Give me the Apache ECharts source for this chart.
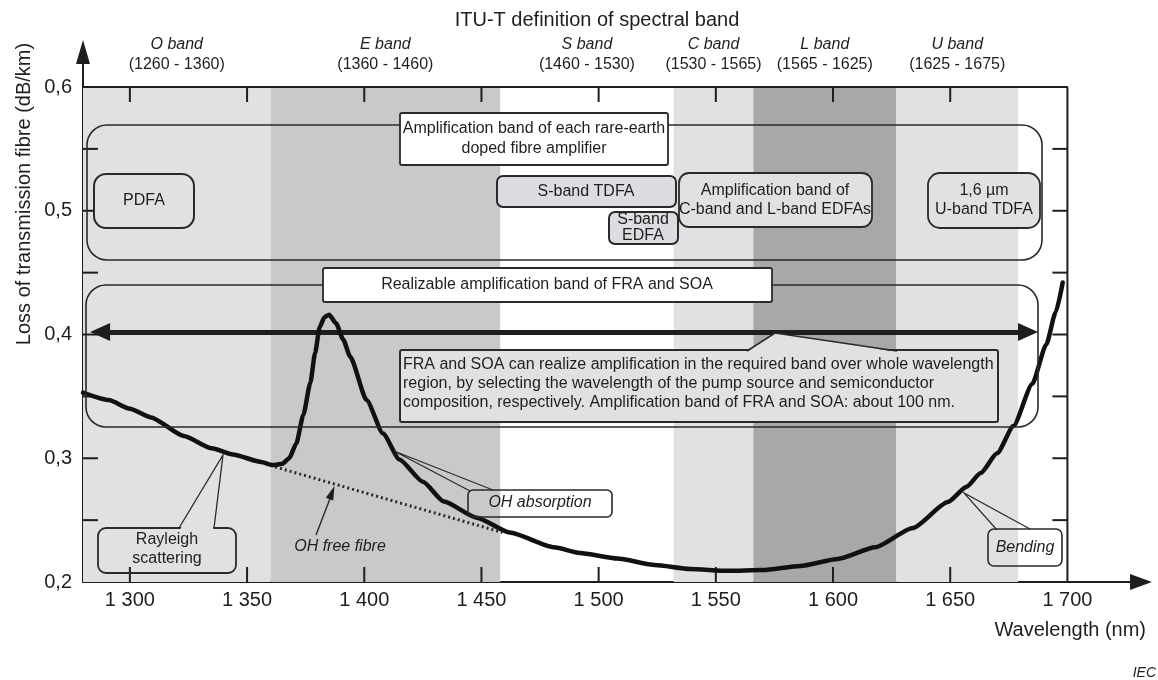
<!DOCTYPE html>
<html><head><meta charset="utf-8">
<script src="https://cdn.jsdelivr.net/npm/echarts@6/dist/echarts.min.js"></script>
<style>html,body{margin:0;padding:0;background:#fff}#c{width:1158px;height:680px}</style>
</head><body><div id="c"></div>
<script>
// ---- data ----
const lossNm = [1280,1291,1300,1309,1323,1335,1344,1356,1361,1365,1368,1371,1374,1377,1379,1381,1383,1385,1388,1391,1394,1401,1408,1415,1425,1434,1448,1462,1481,1492,1508,1524,1539,1555,1570,1586,1602,1618,1634,1649,1657,1663,1670,1677,1685,1691,1695,1698];
const lossVal = [0.353,0.347,0.340,0.333,0.318,0.308,0.303,0.297,0.2945,0.2955,0.300,0.312,0.335,0.361,0.385,0.406,0.414,0.416,0.409,0.396,0.382,0.347,0.320,0.299,0.281,0.265,0.252,0.240,0.228,0.2235,0.219,0.2137,0.2105,0.209,0.2097,0.213,0.2186,0.228,0.2436,0.2646,0.277,0.288,0.304,0.326,0.360,0.392,0.418,0.442];
const ohFreeNm = [1362, 1459];
const ohFreeVal = [0.293, 0.240];
const bandNames = ['O band','E band','S band','C band','L band','U band'];
const bandRanges = ['(1260 - 1360)','(1360 - 1460)','(1460 - 1530)','(1530 - 1565)','(1565 - 1625)','(1625 - 1675)'];
const bandStart = [1280,1360,1458,1532,1566,1627];
const bandEnd = [1360,1458,1532,1566,1627,1679];
const xTickValues = [1300,1350,1400,1450,1500,1550,1600,1650];
const yTickValues = [0.25,0.30,0.35,0.40,0.45,0.50,0.55];
const frameNm = [1280,1700,1700];
const frameVal = [0.6,0.6,0.2];
const arrowNm = [1287.3, 1683.2];
const arrowVal = 0.402;

// ---- styles ----
const FONT = '"Liberation Sans", Arial, Helvetica, sans-serif';
const INK = '#1e1e1e';
const LIGHT = '#e0e1e3';
const bandFill = [LIGHT,'#c8c9cb','rgba(0,0,0,0)',LIGHT,'#a7a8aa',LIGHT];

function T(x,y,t,o){
  const s = Object.assign({text:t, fontSize:16, fontFamily:FONT, fill:INK,
    align:'center', verticalAlign:'middle', textAlign:'center', textVerticalAlign:'middle', lineHeight:19}, o||{});
  return {type:'text', x:x, y:y, z:20, silent:true, style:s};
}
function R(x,y,w,h,r,fill,lw){
  return {type:'rect', z:10, silent:true, shape:{x:x,y:y,width:w,height:h,r:r},
    style:{fill:fill||'none', stroke:'#2a2a2a', lineWidth:lw||1.6}};
}
function PL(points,lw,z){
  return {type:'polyline', z:z||11, silent:true, shape:{points:points}, style:{stroke:'#2a2a2a', lineWidth:lw||1.3, fill:'none'}};
}
function PG(points,fill,z){
  return {type:'polygon', z:z||11, silent:true, shape:{points:points}, style:{fill:fill, stroke:'none'}};
}

const graphics = [
  T(597,20,'ITU-T definition of spectral band',{fontSize:20}),
  {type:'text', x:24, y:194, rotation:Math.PI/2, z:20, silent:true,
    style:{text:'Loss of transmission fibre (dB/km)', fontSize:20, fontFamily:FONT, fill:INK,
      align:'center', verticalAlign:'middle', textAlign:'center', textVerticalAlign:'middle'}},
  T(1146,630,'Wavelength (nm)',{fontSize:20, align:'right', textAlign:'right'}),
  T(1156,673,'IEC',{fontSize:14, fontStyle:'italic', align:'right', textAlign:'right'}),

  R(87,125,955,135,20,'none',1.6),
  R(400,113,268,52,2,'#ffffff',1.8),
  T(534,139,'Amplification band of each rare-earth\ndoped fibre amplifier',{lineHeight:20}),
  R(94,174,100,54,12,LIGHT,2),
  T(144,201,'PDFA'),
  R(497,176,179,31,6,'#dcdde0',2),
  T(586,192,'S-band TDFA'),
  R(609,212,69,32,6,'#dcdde0',2),
  T(643,228,'S-band\nEDFA',{lineHeight:16}),
  R(679,173,193,54,10,LIGHT,1.8),
  T(775,200,'Amplification band of\nC-band and L-band EDFAs',{lineHeight:19}),
  R(928,173,112,55,12,LIGHT,1.8),
  T(984,200,'1,6 \u00b5m\nU-band TDFA',{lineHeight:19}),

  R(86,285,952,142,20,'none',1.6),
  R(323,268,449,34,2,'#ffffff',1.8),
  T(547,285,'Realizable amplification band of FRA and SOA'),
  R(400,350,598,72,2,LIGHT,2),
  PG([[747,352],[775,333],[897,352]],LIGHT,12),
  PL([[747,351],[775,333],[897,351]],1.6,12),
  T(403,365,'FRA and SOA can realize amplification in the required band over whole wavelength',{align:'left',textAlign:'left'}),
  T(403,384,'region, by selecting the wavelength of the pump source and semiconductor',{align:'left',textAlign:'left'}),
  T(403,403,'composition, respectively. Amplification band of FRA and SOA: about 100 nm.',{align:'left',textAlign:'left'}),

  R(98,528,138,45,8,'none',1.8),
  PG([[180,529.5],[223,455],[213,529.5]],LIGHT,12),
  PL([[179,528],[223,455],[214,528]],1.3,12),
  T(167,549,'Rayleigh\nscattering',{lineHeight:19}),

  T(340,547,'OH free fibre',{fontStyle:'italic'}),
  PL([[316,535],[331,496]],1.4,12),
  PG([[334.5,486],[333.2,500.5],[325.8,497.7]],INK,12),

  R(468,490,144,27,5,'none',1.6),
  PL([[470,491],[394,451],[493,490]],1.2,12),
  T(540,503,'OH absorption',{fontStyle:'italic'}),

  R(988,529,74,37,6,'none',1.6),
  PL([[997,530],[964,493],[1030,529]],1.2,12),
  T(1025,548,'Bending',{fontStyle:'italic'})
];

const chart = echarts.init(document.getElementById('c'), null, {renderer:'canvas'});
chart.setOption({
  animation:false,
  backgroundColor:'#ffffff',
  grid:{left:83, right:17, top:52, bottom:98, containLabel:false},
  xAxis:{type:'value', min:1280, max:1731.4, interval:10,
    axisLine:{show:true, lineStyle:{color:INK, width:2}, symbol:['none','triangle'], symbolSize:[16,22]},
    axisTick:{show:false}, splitLine:{show:false},
    axisLabel:{margin:8, fontSize:20, fontFamily:FONT, color:INK,
      formatter:function(v){ v=Math.round(v); return (v%50===0 && v>=1300 && v<=1700) ? String(v).replace(/(\d)(\d{3})$/,'$1 $2') : ''; }}
  },
  yAxis:{type:'value', min:0.2, max:0.6283, interval:0.05,
    axisLine:{show:true, lineStyle:{color:INK, width:2}, symbol:['none','triangle'], symbolSize:[14,24]},
    axisTick:{show:false}, splitLine:{show:false},
    axisLabel:{margin:11, fontSize:20, fontFamily:FONT, color:INK,
      formatter:function(v){ const r=Math.round(v*100); return (r%10===0 && r<=60) ? (r/100).toFixed(1).replace('.',',') : ''; }}
  },
  graphic:{elements:graphics},
  series:[
    {type:'line', z:-5, silent:true, data:[], markArea:{silent:true,
      label:{show:true, position:'top', distance:12,
        formatter:function(p){ return '{i|'+bandNames[p.dataIndex]+'}\n{n|'+bandRanges[p.dataIndex]+'}'; },
        rich:{i:{fontStyle:'italic', fontSize:16, fontFamily:FONT, color:INK, lineHeight:20, align:'center'},
              n:{fontSize:16, fontFamily:FONT, color:INK, lineHeight:20, align:'center'}}},
      data: bandStart.map(function(s,i){ return [{xAxis:s, yAxis:0.2, itemStyle:{color:bandFill[i], opacity:1, borderWidth:0}},{xAxis:bandEnd[i], yAxis:0.6}]; })
    }},
    {type:'line', z:3, silent:true, symbol:'none', data:frameNm.map(function(x,i){return [x,frameVal[i]];}),
      lineStyle:{color:INK, width:2}},
    {type:'custom', z:3, silent:true, data:xTickValues.map(function(v){return [v,0.2];}),
      renderItem:function(p,api){ const b=api.coord([api.value(0),0.2]); const t=api.coord([api.value(0),0.6]);
        return {type:'group', children:[
          {type:'line', shape:{x1:b[0],y1:b[1],x2:b[0],y2:b[1]-15}, style:{stroke:INK,lineWidth:2}},
          {type:'line', shape:{x1:t[0],y1:t[1],x2:t[0],y2:t[1]+15}, style:{stroke:INK,lineWidth:2}}]}; }},
    {type:'custom', z:3, silent:true, data:yTickValues.map(function(v){return [1280,v];}),
      renderItem:function(p,api){ const l=api.coord([1280,api.value(1)]); const r=api.coord([1700,api.value(1)]);
        return {type:'group', children:[
          {type:'line', shape:{x1:l[0],y1:l[1],x2:l[0]+15,y2:l[1]}, style:{stroke:INK,lineWidth:2}},
          {type:'line', shape:{x1:r[0],y1:r[1],x2:r[0]-15,y2:r[1]}, style:{stroke:INK,lineWidth:2}}]}; }},
    {type:'line', z:6, silent:true, symbol:'none', data:ohFreeNm.map(function(x,i){return [x,ohFreeVal[i]];}),
      lineStyle:{color:'#2a2a2a', width:3, type:[2,3]}},
    {type:'line', z:7, silent:true, symbol:'none', smooth:0.2, smoothMonotone:'x',
      data:lossNm.map(function(x,i){return [x,lossVal[i]];}),
      lineStyle:{color:'#111', width:4.5, join:'round', cap:'round'},
      markLine:{silent:true, symbol:['triangle','triangle'], symbolSize:[18,20], label:{show:false},
        lineStyle:{color:INK, width:5, type:'solid'}, emphasis:{disabled:true},
        data:[[{coord:[arrowNm[0],arrowVal]},{coord:[arrowNm[1],arrowVal]}]]}}
  ]
});
</script></body></html>
